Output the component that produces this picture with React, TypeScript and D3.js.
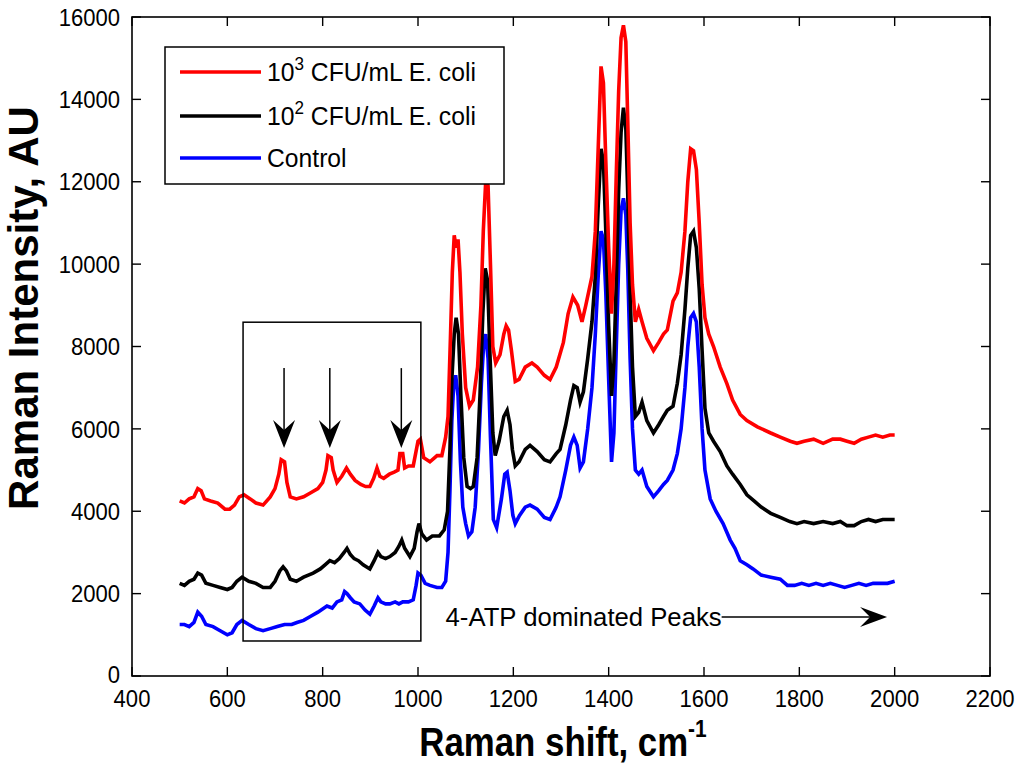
import React from 'react';
import * as d3 from 'd3';

// Raman spectra: [shift cm-1, intensity AU]
const ecoli1000: [number, number][] = [
  [500, 4250], [510, 4200], [520, 4300], [530, 4350], [538, 4550], [545, 4500], [552, 4300], [565, 4250], [580, 4200], [595, 4050],
  [605, 4050], [615, 4150], [625, 4350], [635, 4400], [648, 4300], [660, 4200], [675, 4150], [690, 4350], [700, 4550], [708, 4900],
  [713, 5250], [720, 5200], [725, 4700], [732, 4350], [745, 4300], [760, 4350], [775, 4450], [790, 4550], [800, 4700], [807, 5000],
  [811, 5350], [818, 5300], [822, 5000], [830, 4700], [840, 4850], [850, 5050], [858, 4900], [868, 4750], [880, 4650], [890, 4600],
  [899, 4600], [907, 4800], [914, 5050], [920, 4850], [928, 4800], [940, 4900], [950, 4950], [958, 5000], [962, 5400], [968, 5400],
  [972, 5050], [980, 5100], [990, 5100], [995, 5400], [1000, 5700], [1005, 5750], [1012, 5300], [1025, 5200], [1040, 5350], [1050, 5350],
  [1058, 5800], [1063, 6300], [1068, 8200], [1072, 9800], [1076, 10700], [1080, 10400], [1084, 10600], [1088, 9800], [1093, 8300], [1100, 7000],
  [1108, 6550], [1116, 6700], [1125, 7500], [1132, 9000], [1137, 10800], [1142, 12000], [1147, 11900], [1152, 10000], [1157, 8000], [1163, 7600],
  [1172, 7800], [1180, 8300], [1185, 8500], [1190, 8400], [1196, 7900], [1204, 7150], [1212, 7200], [1225, 7500], [1239, 7600], [1250, 7500],
  [1265, 7300], [1277, 7200], [1290, 7500], [1305, 8100], [1315, 8800], [1325, 9200], [1335, 9000], [1344, 8600], [1352, 9000], [1365, 9700],
  [1372, 10800], [1378, 12800], [1384, 14800], [1389, 14400], [1394, 12500], [1400, 10400], [1406, 8800], [1411, 10000], [1416, 12200], [1421, 14200],
  [1426, 15500], [1431, 15800], [1436, 15400], [1440, 13500], [1445, 11000], [1450, 9500], [1456, 8600], [1463, 8900], [1470, 8600], [1480, 8200],
  [1494, 7900], [1505, 8100], [1515, 8300], [1523, 8400], [1535, 9100], [1544, 9300], [1552, 9800], [1560, 10800], [1566, 12000], [1572, 12800],
  [1578, 12750], [1584, 12300], [1590, 11000], [1596, 9500], [1602, 8700], [1610, 8300], [1620, 8000], [1634, 7500], [1648, 7100], [1660, 6700],
  [1676, 6350], [1690, 6200], [1712, 6050], [1740, 5900], [1760, 5800], [1781, 5700], [1795, 5650], [1810, 5700], [1830, 5750], [1850, 5650],
  [1870, 5750], [1886, 5750], [1900, 5700], [1915, 5650], [1930, 5750], [1945, 5800], [1960, 5850], [1975, 5800], [1990, 5850], [2000, 5850],
];

const ecoli100: [number, number][] = [
  [500, 2250], [510, 2200], [520, 2300], [530, 2350], [538, 2500], [546, 2450], [555, 2250], [570, 2200], [585, 2150], [600, 2100],
  [610, 2150], [620, 2300], [631, 2400], [645, 2300], [660, 2250], [675, 2150], [690, 2150], [700, 2300], [710, 2550], [717, 2650],
  [724, 2550], [732, 2350], [745, 2300], [760, 2400], [780, 2500], [795, 2600], [805, 2700], [815, 2800], [825, 2750], [835, 2850],
  [845, 3000], [851, 3100], [858, 2950], [866, 2850], [875, 2800], [885, 2700], [899, 2600], [908, 2800], [916, 3000], [922, 2900],
  [932, 2850], [941, 2900], [952, 3000], [960, 3150], [966, 3300], [972, 3100], [983, 2900], [992, 3100], [998, 3500], [1002, 3700],
  [1008, 3450], [1018, 3300], [1030, 3400], [1045, 3400], [1055, 3550], [1062, 4000], [1067, 5500], [1071, 7200], [1076, 8300], [1080, 8700],
  [1085, 8300], [1090, 6800], [1096, 5300], [1103, 4600], [1110, 4550], [1116, 4600], [1124, 5300], [1130, 6800], [1136, 8800], [1141, 9900],
  [1146, 9600], [1151, 7800], [1157, 5900], [1162, 5350], [1170, 5700], [1180, 6300], [1187, 6450], [1193, 6100], [1198, 5500], [1204, 5100],
  [1212, 5200], [1225, 5500], [1235, 5600], [1250, 5450], [1265, 5250], [1277, 5200], [1290, 5400], [1298, 5500], [1310, 6100], [1320, 6700],
  [1327, 7050], [1334, 7000], [1340, 6650], [1347, 6900], [1356, 7700], [1365, 8600], [1372, 9700], [1378, 11400], [1384, 12800], [1389, 12500],
  [1394, 10800], [1400, 8500], [1406, 6800], [1411, 7600], [1416, 9600], [1421, 11800], [1426, 13200], [1431, 13800], [1436, 13300], [1440, 11700],
  [1445, 9300], [1450, 7500], [1456, 6300], [1463, 6400], [1470, 6650], [1480, 6200], [1494, 5900], [1505, 6100], [1515, 6300], [1523, 6450],
  [1535, 6550], [1544, 7100], [1552, 7800], [1560, 8900], [1566, 9900], [1572, 10700], [1578, 10800], [1584, 10400], [1590, 9400], [1596, 7900],
  [1602, 6500], [1610, 5900], [1620, 5700], [1634, 5450], [1648, 5100], [1660, 4900], [1676, 4650], [1690, 4400], [1705, 4250], [1720, 4100],
  [1740, 3950], [1760, 3850], [1780, 3750], [1795, 3700], [1810, 3750], [1830, 3700], [1850, 3750], [1870, 3700], [1886, 3750], [1900, 3650],
  [1915, 3650], [1930, 3750], [1945, 3800], [1960, 3750], [1975, 3800], [1990, 3800], [2000, 3800],
];

const control: [number, number][] = [
  [500, 1250], [510, 1250], [520, 1200], [530, 1300], [538, 1550], [546, 1450], [555, 1250], [570, 1200], [585, 1100], [600, 1000],
  [610, 1050], [620, 1250], [631, 1350], [645, 1250], [660, 1150], [675, 1100], [690, 1150], [705, 1200], [720, 1250], [735, 1250],
  [746, 1300], [760, 1350], [775, 1450], [790, 1550], [809, 1700], [820, 1650], [830, 1800], [840, 1850], [846, 2050], [851, 2000],
  [858, 1900], [866, 1800], [878, 1750], [889, 1600], [899, 1500], [908, 1700], [916, 1900], [922, 1800], [932, 1750], [941, 1750],
  [952, 1800], [960, 1750], [968, 1800], [980, 1800], [990, 1850], [996, 2200], [1000, 2500], [1006, 2450], [1015, 2250], [1025, 2200],
  [1040, 2150], [1050, 2150], [1058, 2300], [1063, 3000], [1067, 4500], [1071, 6200], [1075, 7100], [1079, 7300], [1084, 6800], [1089, 5200],
  [1094, 4100], [1100, 3700], [1106, 3400], [1113, 3500], [1120, 4100], [1127, 5500], [1133, 7100], [1138, 8100], [1142, 8300], [1147, 7700],
  [1152, 5800], [1158, 3800], [1165, 3600], [1175, 4300], [1182, 4900], [1187, 4950], [1193, 4500], [1199, 3900], [1204, 3700], [1213, 3900],
  [1225, 4100], [1235, 4150], [1250, 4050], [1265, 3850], [1277, 3800], [1290, 4100], [1298, 4350], [1310, 5000], [1320, 5600], [1327, 5800],
  [1334, 5600], [1340, 5050], [1347, 5200], [1356, 6000], [1365, 7000], [1372, 8300], [1378, 9700], [1384, 10800], [1389, 10600], [1394, 9300],
  [1400, 7200], [1406, 5200], [1411, 5900], [1416, 8000], [1421, 10000], [1426, 11300], [1431, 11600], [1436, 11200], [1440, 9900], [1445, 7700],
  [1450, 6000], [1456, 5000], [1463, 4900], [1470, 5000], [1480, 4600], [1494, 4350], [1505, 4500], [1515, 4650], [1523, 4750], [1535, 5000],
  [1544, 5400], [1552, 6000], [1560, 7000], [1566, 8000], [1572, 8700], [1578, 8800], [1584, 8600], [1590, 7500], [1596, 6000], [1602, 5000],
  [1613, 4300], [1625, 4000], [1640, 3700], [1655, 3300], [1665, 3100], [1676, 2800], [1690, 2700], [1703, 2600], [1720, 2450], [1740, 2400],
  [1760, 2350], [1775, 2200], [1790, 2200], [1805, 2250], [1820, 2200], [1835, 2250], [1850, 2200], [1865, 2250], [1880, 2200], [1895, 2150],
  [1910, 2200], [1925, 2250], [1940, 2200], [1955, 2250], [1970, 2250], [1985, 2250], [2000, 2300],
];

const xTicks = [400, 600, 800, 1000, 1200, 1400, 1600, 1800, 2000, 2200];
const yTicks = [0, 2000, 4000, 6000, 8000, 10000, 12000, 14000, 16000];

// legend entries: base, superscript, rest
const legendItems = [
  { color: '#ff0000', base: '10', sup: '3', rest: ' CFU/mL E. coli' },
  { color: '#000000', base: '10', sup: '2', rest: ' CFU/mL E. coli' },
  { color: '#0000ff', base: 'Control', sup: '', rest: '' },
];

// marked peaks inside the box (cm-1) and box extents
const markedPeaks = [719, 815, 965];
const boxShift = [633, 1006];
const boxIntensity = [850, 8590];

const W = 1024, H = 774;
const left = 132, right = 990, top = 17, bottom = 676;
const FONT = '"Liberation Sans", Arial, Helvetica, sans-serif';
const SQ = 0.92; // horizontal squash seen on all horizontal text

const App = () => {
  const x = d3.scaleLinear().domain([400, 2200]).range([left, right]);
  const y = d3.scaleLinear().domain([0, 16000]).range([bottom, top]);
  const line = d3.line<[number, number]>().x(d => x(d[0])).y(d => y(d[1]));

  const series = [
    { data: control, color: '#0000ff' },
    { data: ecoli100, color: '#000000' },
    { data: ecoli1000, color: '#ff0000' },
  ];

  // barbed arrow head, tip at (0,0) pointing +x
  const head = (len: number, w: number, notch: number) =>
    `M0,0 L${-len},${-w / 2} L${-len + notch},0 L${-len},${w / 2} Z`;

  const arrowY0 = y(7475), arrowY1 = y(5534);
  const hArrowY = y(1432);

  return (
    <svg width={W} height={H} style={{ position: 'absolute', left: 0, top: 0, background: '#fff' }}
      fontFamily={FONT}>
      <rect x={0} y={0} width={W} height={H} fill="#fff" />

      {/* spectra */}
      <g fill="none" strokeWidth={3.6} strokeLinejoin="miter">
        {series.map((s, i) => (
          <path key={i} d={line(s.data) || ''} stroke={s.color} />
        ))}
      </g>

      {/* axes box */}
      <rect x={left} y={top} width={right - left} height={bottom - top} fill="none" stroke="#000" strokeWidth={1.6} />
      {xTicks.map(t => (
        <g key={'x' + t}>
          <line x1={x(t)} x2={x(t)} y1={bottom} y2={bottom - 9} stroke="#000" strokeWidth={1.4} />
          <line x1={x(t)} x2={x(t)} y1={top} y2={top + 9} stroke="#000" strokeWidth={1.4} />
          <text transform={`translate(${x(t)},${bottom + 31}) scale(${SQ},1)`} textAnchor="middle" fontSize={24}>{t}</text>
        </g>
      ))}
      {yTicks.map(t => (
        <g key={'y' + t}>
          <line x1={left} x2={left + 9} y1={y(t)} y2={y(t)} stroke="#000" strokeWidth={1.4} />
          <line x1={right} x2={right - 9} y1={y(t)} y2={y(t)} stroke="#000" strokeWidth={1.4} />
          <text transform={`translate(${left - 12},${y(t) - (t === 0 ? 2 : 0)}) scale(${SQ},1)`} dy="0.36em" textAnchor="end" fontSize={24}>{t}</text>
        </g>
      ))}

      {/* axis labels */}
      <text transform={`translate(563,756) scale(0.87,1)`} textAnchor="middle" fontSize={40} fontWeight="bold">
        Raman shift, cm<tspan dy={-19} fontSize={24}>-1</tspan>
      </text>
      <text transform={`translate(38,308) rotate(-90)`} textAnchor="middle" fontSize={42} fontWeight="bold">
        Raman Intensity, AU
      </text>

      {/* annotation box and arrows */}
      <rect x={x(boxShift[0])} y={y(boxIntensity[1])} width={x(boxShift[1]) - x(boxShift[0])}
        height={y(boxIntensity[0]) - y(boxIntensity[1])} fill="none" stroke="#000" strokeWidth={1.5} />
      {markedPeaks.map(p => (
        <g key={p}>
          <line x1={x(p)} x2={x(p)} y1={arrowY0} y2={arrowY1 - 10} stroke="#000" strokeWidth={1.5} />
          <path d={head(28, 22, 10)} transform={`translate(${x(p)},${arrowY1}) rotate(90)`} fill="#000" />
        </g>
      ))}
      <text x={x(1637)} y={hArrowY} dy="0.36em" textAnchor="end" fontSize={25.7}>4-ATP dominated Peaks</text>
      <line x1={x(1637)} x2={x(1984) - 10} y1={hArrowY} y2={hArrowY} stroke="#000" strokeWidth={1.5} />
      <path d={head(27, 20, 10)} transform={`translate(${x(1984)},${hArrowY})`} fill="#000" />

      {/* legend */}
      <rect x={165} y={47} width={339} height={137} fill="#fff" stroke="#000" strokeWidth={1.5} />
      {legendItems.map((it, i) => {
        const ly = [72, 116, 158][i];
        return (
          <g key={i}>
            <line x1={180} x2={261} y1={ly} y2={ly} stroke={it.color} strokeWidth={3.6} />
            <text transform={`translate(267,${ly}) scale(0.95,1)`} dy="0.36em" fontSize={26}>
              {it.base}
              {it.sup && <tspan dy={-11} fontSize={18}>{it.sup}</tspan>}
              {it.sup && <tspan dy={11}>{it.rest}</tspan>}
            </text>
          </g>
        );
      })}
    </svg>
  );
};

export default App;
